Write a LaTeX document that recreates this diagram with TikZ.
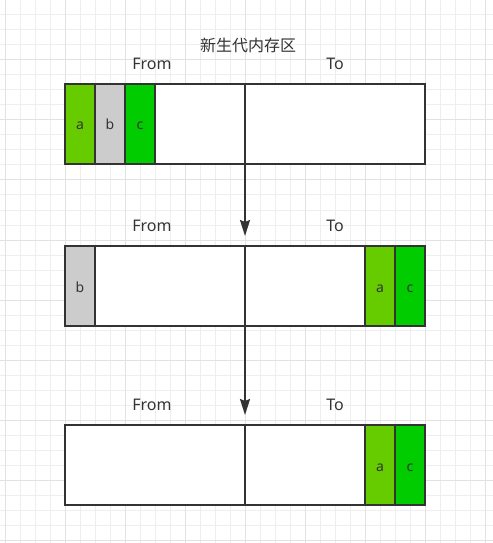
\documentclass[tikz,border=0pt]{standalone}
\usepackage{fontspec}
\setmainfont{Noto Sans}
\newfontfamily\cjk{Noto Sans CJK SC}
\usetikzlibrary{arrows.meta}
\definecolor{gridminor}{HTML}{EEEEEE}
\definecolor{gridmajor}{HTML}{E2E2E2}
\definecolor{stroke}{HTML}{333333}
\definecolor{greenA}{HTML}{66CC00}
\definecolor{greenC}{HTML}{00CC00}
\definecolor{grayB}{HTML}{CCCCCC}
\definecolor{txt}{HTML}{333333}
\tikzset{
  frame/.style={draw=stroke, line width=2bp, minimum width=360bp, minimum height=80bp, inner sep=0pt, outer sep=0pt},
  cell/.style={draw=stroke, line width=2bp, minimum width=30bp, minimum height=80bp, inner sep=0pt, outer sep=0pt, text=txt, font=\fontsize{14bp}{16bp}\selectfont, text depth=0pt, text height=12bp},
  cellA/.style={cell, fill=greenA},
  cellB/.style={cell, fill=grayB},
  cellC/.style={cell, fill=greenC},
  lbl/.style={text=txt, font=\fontsize{16bp}{18bp}\selectfont, inner sep=0pt},
  divider/.style={draw=stroke, line width=2bp},
  flow/.style={draw=stroke, line width=2bp, -{Stealth[length=16bp, width=10bp, inset=2bp]}},
}
\begin{document}
\begin{tikzpicture}[x=1bp, y=-1bp]
\useasboundingbox (0,0) rectangle (493,543);
\fill[white] (0,0) rectangle (493,543);
% grid
\foreach \gx in {5,20,...,490} \draw[gridminor, line width=1bp] (\gx,0) -- (\gx,543);
\foreach \gy in {15,30,...,540} \draw[gridminor, line width=1bp] (0,\gy) -- (493,\gy);
\foreach \gx in {5,65,...,490} \draw[gridmajor, line width=1bp] (\gx,0) -- (\gx,543);
\foreach \gy in {60,120,...,540} \draw[gridmajor, line width=1bp] (0,\gy) -- (493,\gy);

% title
\node[lbl] (title) at (248,45) {\cjk 新生代内存区};

% row 1
\node[lbl] (from1) at (152,64) {From};
\node[lbl] (to1) at (335,64) {To};
\node[frame, fill=white] (box1) at (245,124) {};
\node[cellA] (a1) at (80,124) {a};
\node[cellB] (b1) at (110,124) {b};
\node[cellC] (c1) at (140,124) {c};
\node[frame] at (box1.center) {};
\draw[divider] (box1.north) -- (box1.south);

% row 2
\node[lbl] (from2) at (152,226) {From};
\node[lbl] (to2) at (335,226) {To};
\node[frame, fill=white] (box2) at (245,286) {};
\node[cellB] (b2) at (80,286) {b};
\node[cellA] (a2) at (380,286) {a};
\node[cellC] (c2) at (410,286) {c};
\node[frame] at (box2.center) {};
\draw[divider] (box2.north) -- (box2.south);

% row 3
\node[lbl] (from3) at (152,405) {From};
\node[lbl] (to3) at (335,405) {To};
\node[frame, fill=white] (box3) at (245,465) {};
\node[cellA] (a3) at (380,465) {a};
\node[cellC] (c3) at (410,465) {c};
\node[frame] at (box3.center) {};
\draw[divider] (box3.north) -- (box3.south);

% arrows
\draw[flow] (box1.south) -- ([yshift=10bp]box2.north);
\draw[flow] (box2.south) -- ([yshift=10bp]box3.north);
\end{tikzpicture}
\end{document}
